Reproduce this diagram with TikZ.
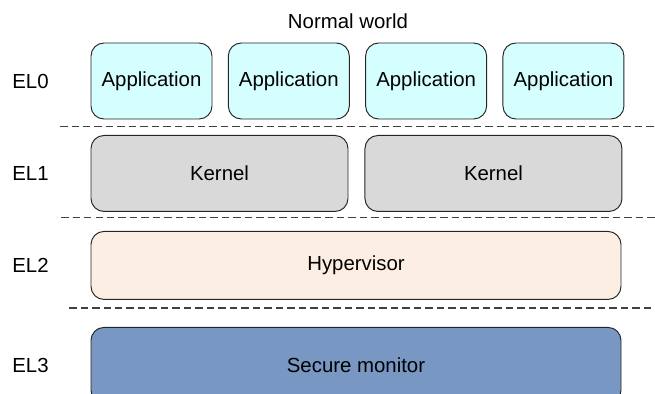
\documentclass[tikz,border=0pt]{standalone}
\usepackage{fontspec}
\setmainfont{Liberation Sans}
\usetikzlibrary{positioning}
\definecolor{appcyan}{HTML}{D5FEFF}
\definecolor{kerngray}{HTML}{D9D9D9}
\definecolor{hypbeige}{HTML}{FCEEE2}
\definecolor{secblue}{HTML}{7897C3}

\begin{document}
\begin{tikzpicture}[
node distance = 0.307cm,
font=\fontsize{11.6}{14}\selectfont,
layer/.style={rectangle, rounded corners=0.26cm, draw=black!85, line width=0.55pt, inner sep=0pt},
app/.style={layer, fill=appcyan, minimum width=2.42cm, minimum height=1.52cm},
kernel/.style={layer, fill=kerngray, minimum width=5.14cm, minimum height=1.52cm},
hyper/.style={layer, fill=hypbeige, minimum width=10.6cm, minimum height=1.36cm},
monitor/.style={layer, fill=secblue, minimum width=10.6cm, minimum height=1.52cm},
level/.style={inner sep=0pt},
divider/.style={draw=black!75, line width=0.8pt, dash pattern=on 0.15cm off 0.08cm}]
\useasboundingbox (0,0) rectangle (13.1,-7.88);

\node (world) at (6.96,-0.42) {Normal world};

% EL0
\node [app] (app1) at (3.03,-1.62) {Application};
\node [app] (app2) [right=of app1] {Application};
\node [app] (app3) [right=of app2] {Application};
\node [app] (app4) [right=of app3] {Application};

% EL1
\node [kernel] (kern1) [below=0.31cm of app1.south west, anchor=north west] {Kernel};
\node [kernel] (kern2) [right=0.32cm of kern1] {Kernel};

% EL2, EL3
\node [hyper] (hyp) [below=0.38cm of kern1.south west, anchor=north west] {Hypervisor};
\node [monitor] (mon) [below=0.54cm of hyp.south west, anchor=north west] {Secure monitor};

\coordinate (lab) at (0.61,0);
\node [level] (el0) at (lab |- app1) {EL0};
\node [level] (el1) at (lab |- kern1) {EL1};
\node [level] (el2) at (lab |- hyp) {EL2};
\node [level] (el3) at (lab |- mon) {EL3};

\draw [divider] (1.2,-2.53) -- (13.1,-2.53);
\draw [divider] (1.22,-4.35) -- (13.1,-4.35);
\draw [divider] (1.38,-6.16) -- (13.1,-6.16);
\end{tikzpicture}
\end{document}
